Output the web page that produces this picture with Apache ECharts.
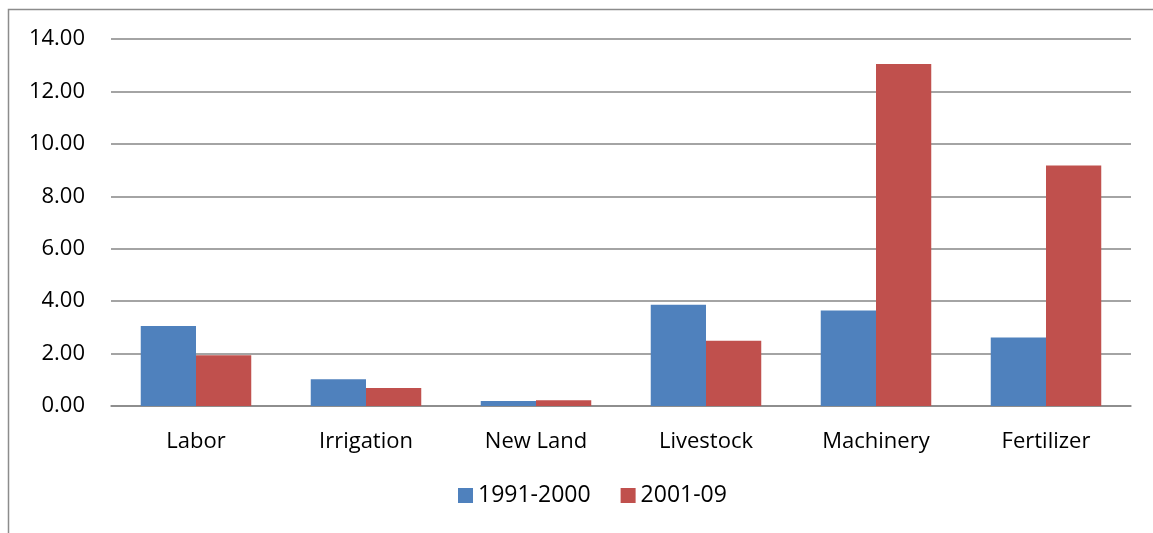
<!DOCTYPE html>
<html>
<head>
<meta charset="utf-8">
<script src="https://cdn.jsdelivr.net/npm/echarts@6/dist/echarts.min.js"></script>
<style>
html,body{margin:0;padding:0;background:#fff;}
#chart{width:1153px;height:533px;}
</style>
</head>
<body>
<div id="chart"></div>
<script>
var categories=["Labor","Irrigation","New Land","Livestock","Machinery","Fertilizer"];
var series1991=[3.05,1.02,0.19,3.86,3.64,2.61];
var series2001=[1.94,0.69,0.22,2.49,13.05,9.17];
var seriesNames=["1991-2000","2001-09"];

var chart=echarts.init(document.getElementById("chart"));
var font="'Open Sans', sans-serif";
var option={
	animation:false,
	graphic:[{
		type:"rect",
		shape:{x:8.5,y:9.5,width:1300,height:700},
		style:{fill:"none",stroke:"#8c8c8c",lineWidth:1.5},
		silent:true
	}],
	grid:{left:111,right:22,top:39,bottom:127},
	legend:{
		data:seriesNames,
		bottom:21,
		left:453,
		itemWidth:15,
		itemHeight:15,
		itemGap:30,
		icon:"rect",
		textStyle:{fontFamily:font,fontSize:23,color:"#000"}
	},
	xAxis:{
		type:"category",
		data:categories,
		axisTick:{show:false},
		axisLine:{lineStyle:{color:"#868686",width:1.5}},
		axisLabel:{fontFamily:font,fontSize:22,color:"#000",margin:25}
	},
	yAxis:{
		type:"value",
		min:0,
		max:14,
		interval:2,
		axisLine:{show:false},
		axisTick:{show:false},
		splitLine:{lineStyle:{color:"#868686",width:1.5}},
		axisLabel:{fontFamily:font,fontSize:22,color:"#000",margin:26,formatter:function(v){return v.toFixed(2);}}
	},
	series:[
		{name:seriesNames[0],type:"bar",data:series1991,barGap:"0%",barCategoryGap:"35%",
			itemStyle:{color:"#4f81bd"}},
		{name:seriesNames[1],type:"bar",data:series2001,barGap:"0%",barCategoryGap:"35%",
			itemStyle:{color:"#c0504d"}}
	]
};
chart.setOption(option);
</script>
</body>
</html>
